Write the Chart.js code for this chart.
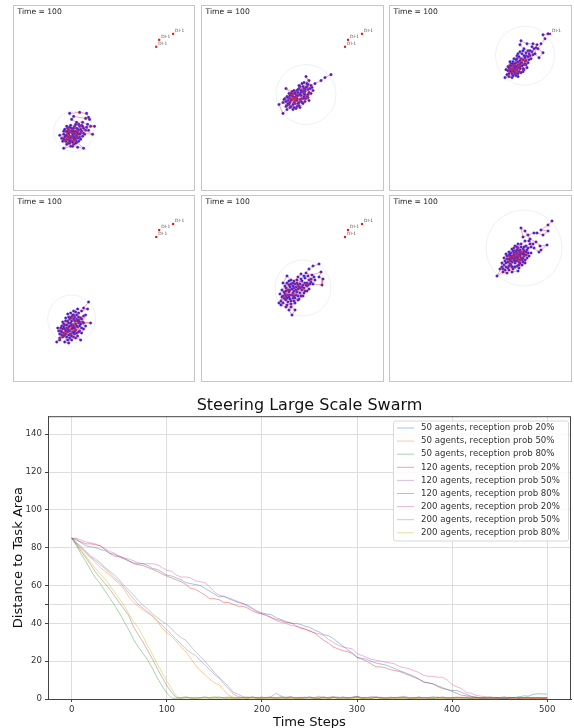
<!DOCTYPE html>
<html>
<head>
<meta charset="utf-8">
<script src="https://cdn.jsdelivr.net/npm/chart.js@4/dist/chart.umd.min.js"></script>
<style>
html,body{margin:0;padding:0;background:#fff;overflow:hidden}
.panel{position:absolute;border:1px solid #c6c6c6;box-sizing:border-box}
.panel canvas{display:block;filter:blur(.3px)}
#main{position:absolute;left:0;top:395px;filter:blur(.3px)}
</style>
</head>
<body>
<div class="panel" style="left:13px;top:5px;width:182px;height:186px"><canvas id="p1" width="180" height="184"></canvas></div>
<div class="panel" style="left:201px;top:5px;width:183px;height:186px"><canvas id="p2" width="181" height="184"></canvas></div>
<div class="panel" style="left:389px;top:5px;width:183px;height:186px"><canvas id="p3" width="181" height="184"></canvas></div>
<div class="panel" style="left:13px;top:195px;width:182px;height:187px"><canvas id="p4" width="180" height="185"></canvas></div>
<div class="panel" style="left:201px;top:195px;width:183px;height:187px"><canvas id="p5" width="181" height="185"></canvas></div>
<div class="panel" style="left:389px;top:195px;width:183px;height:187px"><canvas id="p6" width="181" height="185"></canvas></div>
<canvas id="main" width="574" height="333"></canvas>
<script>
// distance chart
const steps = [
0,5,10,15,20,25,30,35,40,45,
50,55,60,65,70,75,80,85,90,95,
100,105,110,115,120,125,130,135,140,145,
150,155,160,165,170,175,180,185,190,195,
200,205,210,215,220,225,230,235,240,245,
250,255,260,265,270,275,280,285,290,295,
300,305,310,315,320,325,330,335,340,345,
350,355,360,365,370,375,380,385,390,395,
400,405,410,415,420,425,430,435,440,445,
450,455,460,465,470,475,480,485,490,495,
500];
const a50p20 = [
85,84.5,82.5,81,80.5,80,79,78.5,77,76.5,
75,74,73,72,71.5,71.5,70.5,69,68.5,67,
65.5,65,64,63,61.5,61,60.5,60,58.5,57,
55.5,54,54.5,53,52,51,50.5,49.5,48,46.5,
45.5,45,44.5,43,42,41,40,40,39.5,38.5,
38,36.5,35.5,34,33.5,32,30,28,26,24.5,
22,21.5,21,20,19,18.5,18,17,16,15,
14,13,12,10.5,9,8.5,8,7,6,5,
4.5,4.5,3.5,2.5,1.5,.9,.5,.7,.4,.6,
.5,.3,.8,.5,.6,1.7,1.5,2.4,2.8,2.7,
2.5];
const a50p50 = [
85,82,79.5,77,74.5,72,69.5,67.5,65.5,63,
61,58,54,51,49,47,45.5,43.5,41,37.5,
35,33,30.5,27.5,25,21.5,18,15,13,10.5,
8.5,7.5,4.5,2,.8,.5,.7,.3,.9,.5,
.4,.8,.3,.6,.5,1,.4,.7,.3,.6,
.9,.4,.5,1.2,.3,.6,.8,.4,.7,.5,
.9,.3,.6,.4,.8,.5,.3,.7,.4,.6,
.5,.8,.3,.4,.7,.5,1,.4,.6,.3,
.7,.5,.4,1.2,.6,.3,.5,.8,.4,.6,
.3,.7,.5,.4,.9,.3,.6,.5,.4,.7,
.4];
const a50p80 = [
85,81,76.5,72.5,68,64,61,57,53.5,49.5,
45.5,41,36.5,31.5,27.5,24,20.5,16,11,7,
3,.5,.3,.8,1.1,.6,.9,.4,1,.7,
1.2,.5,.8,1,.4,.9,.6,1.1,.5,.7,
1,.4,.8,.6,1.2,.5,.9,.4,.7,1,
.6,.8,.3,1.1,.5,.9,.6,1,.4,.7,
1.1,.5,.8,.4,.9,.6,.3,1,.5,.7,
.9,.4,.6,1,.5,.8,.3,.7,1.1,.4,
.8,.5,.9,.4,.6,1,.3,.7,.5,.9,
.6,.4,1,.5,1.2,.7,.4,.8,.5,.6,
.7];
const a120p20 = [
85,84,83,82,82,81.5,81,79,77,75.5,
75.5,74.5,73,71.5,71,70.5,69.5,68.5,67.5,66,
65,64,63,62,60.5,58.5,58,56.5,55,53,
53,52.5,51,51,50,49,49,48,46.5,45.5,
45,44,43,42,41.5,40.5,40.5,39,37.5,37,
36,35,33,31,29.5,27.5,26.5,25.5,25,24,
22,21,20,18.5,17,17,16.5,15.5,15,14.5,
13.5,12.5,11.5,10.5,9,8.5,8,6.5,5.5,5,
4,3,2,1.7,1.3,.7,.5,.3,.6,.4,
.5,.3,.4,.7,.3,.5,.6,.3,.5,.4,
.3];
const a120p50 = [
85,82.5,80,77.5,75,73,71,69,66.5,64,
62,59,56,53,50,48,46,44,41.5,39,
36.5,34,31.5,29,26.5,24.5,23,20.5,18,15.5,
13,11,8,5.5,2.5,1.2,.8,.5,.9,.6,
.4,.7,1,.5,.8,.3,.6,.9,.5,.4,
.7,.3,.9,.5,.6,.8,1.1,.4,.6,.7,
1,.5,.8,.4,1.2,.6,.3,.7,.5,.9,
.4,.6,.8,.3,.5,.7,.4,.9,.6,.3,
.5,.8,.4,.6,.3,.7,.5,.9,.4,.6,
.8,.3,.5,.7,.4,.6,.9,.3,.5,.4,
.6];
const a120p80 = [
85,81.5,78,74.5,71,67,64,61,58,54.5,
51,47.5,44,38,34,30,25.5,21,16,11.5,
7,3.5,.7,.4,.9,.6,.3,.8,1,.5,
.7,1.1,.4,.6,.9,.3,.8,.5,1,.6,
.4,.9,.7,.3,.6,.8,1,.5,.4,.7,
.9,.5,.3,.8,.6,1,.4,.7,.5,.9,
1.3,.6,.4,.8,1,.5,.7,.3,.9,.6,
.8,.4,.5,.9,.7,.3,.6,1,.4,.8,
.5,.7,.9,.4,.6,.3,.8,.5,1,.6,
.4,.7,.5,.9,.3,.6,.8,.4,.7,.5,
.6];
const a200p20 = [
85,85,84,83,82.5,82,81,79.5,78,77,
75.5,74.5,74,73,72,71.5,71.5,71.5,71,69.5,
68,67.5,65.5,64.5,64.5,64,62.5,62,61.5,59.5,
56.5,55,54,53.5,52.5,51.5,50.5,49,47.5,46,
45,44.5,43,41.5,40.5,40,39,38.5,38,37,
36,35,34.5,33.5,31.5,30,28.5,27.5,27,26.5,
24,23,22,21,20.5,20,19.5,19,18.5,17,
16.5,16,15,14,12.5,12,12,11.5,11.5,10,
7.5,6.5,5.5,3.5,3,2,1.5,1.2,1,.8,
.5,.6,.4,.9,.5,.8,.7,.4,.6,.5,
.4];
const a200p50 = [
85,82.5,80.5,78,75.5,74,72,69.5,67.5,65.5,
63,60,57.5,55,52,49.5,47.5,45,43,41,
39.5,37,34.5,32.5,31,28,25,22.5,20,17,
14,11.5,9,6.5,3.5,2.5,1.2,.8,1.1,.6,
1,.5,1.4,3,1.6,.8,1.3,.6,1,.5,
1.2,.7,1.5,.6,.9,1.3,.5,1.1,.7,.9,
1.5,.8,.6,1.4,.7,1,.5,.9,.6,1.1,
1.4,.7,.5,1,.6,.8,1.2,.5,.9,.7,
.6,1.1,.5,.8,.4,1,.7,.5,.9,.6,
.8,1.3,.5,.7,1,.6,.4,.9,.7,.5,
.8];
const a200p80 = [
85,82,78.5,75.5,72,69,66,63.5,60,56.5,
53,49.5,45,41,37.5,33,28,23.5,18.5,14,
9.5,5.5,1.5,.3,.5,.4,.2,.6,.3,.5,
.2,.4,.6,.3,.2,.5,.4,.3,.6,.2,
.4,.5,.3,.6,.2,.4,.3,.5,.2,.6,
.3,.4,.2,.5,.3,.6,.2,.4,.5,.3,
.4,.2,.6,.3,.5,.2,.4,.3,.6,.2,
.5,.3,.4,.2,.6,.3,.5,.2,.4,.3,
.2,.5,.3,.6,.2,.4,.3,.5,.2,.4,
.3,.6,.2,.4,.5,.3,.2,.4,.3,.5,
.2];
const seriesNames = [
'50 agents, reception prob 20%','50 agents, reception prob 50%','50 agents, reception prob 80%',
'120 agents, reception prob 20%','120 agents, reception prob 50%','120 agents, reception prob 80%',
'200 agents, reception prob 20%','200 agents, reception prob 50%','200 agents, reception prob 80%'];
const seriesValues = [a50p20,a50p50,a50p80,a120p20,a120p50,a120p80,a200p20,a200p50,a200p80];
const seriesColors = ['rgba(31,119,180,.42)','rgba(255,127,14,.42)','rgba(44,160,44,.42)','rgba(214,39,40,.42)','rgba(148,103,189,.42)','rgba(140,86,75,.42)','rgba(227,119,194,.55)','rgba(127,127,127,.42)','rgba(188,189,34,.45)'];
const yTicks = [0,20,40,50,60,80,100,120,140];

// swarm panels, positions in panel units
const swarm1 = [[56,77],[66,78],[73,77],[75,73],[76,71],[72,72],[60,74],[58,71],[63,68],[69,68],[74,66],[81,64],[77,64],[70,62],[66,64],[62,66],[60,62],[65,60],[72,60],[79,56],[70,57],[64,56],[59,60],[54,62],[56,58],[61,57],[66,53],[60,52],[56,54],[52,59],[50,56],[46,55],[51,53],[55,50],[49,49],[54,47],[58,49],[62,50],[60,46],[57,44],[50,42],[56,47],[64,43],[70,42],[63,48],[58,53],[55,56],[53,51],[57,59],[61,55],[64,52],[59,48],[56,52],[52,55],[58,62],[62,59],[67,57],[63,62],[68,65],[64,58],[60,54],[57,50],[54,57],[50,59],[55,60],[59,57],
[53,64],[57,65],[61,64],[65,66],[67,61],[69,64],[73,63],[75,60],[68,59],[66,56],[63,54],[59,55],[55,53],[52,49],[48,52],[50,51],[53,54],[56,49],[60,50],[62,47],[65,49],[67,51],[69,54],[71,56],[62,53],[58,58],[54,59],[51,61],[56,63],[60,59],[63,57],[57,53],[53,46],[59,44],[61,52],[64,61]];
const swarm2 = [[129,116],[123,113],[119,110],[113,107],[109,105],[104,114],[107,110],[102,108],[105,104],[111,100],[106,96],[107,90],[102,94],[99,98],[103,101],[98,104],[95,100],[92,97],[84,102],[89,97],[87,93],[92,92],[96,95],[100,92],[97,88],[93,87],[97,85],[92,83],[87,86],[85,85],[81,88],[77,86],[81,77],[85,81],[89,84],[93,90],[90,95],[86,90],[83,92],[88,88],[94,93],[98,91],[102,97],[106,101],[109,97],[104,92],[100,88],[95,90],[91,86],[96,98],[101,104],[105,107],[108,102],[103,99],[99,95],[94,96],[90,91],[86,87],[92,100],[97,102],[100,100],[106,93],[84,89],[88,92],[95,84],[91,94],
[90,99],[87,97],[85,94],[82,91],[84,84],[88,83],[91,81],[94,82],[98,83],[101,87],[103,89],[105,94],[102,92],[99,89],[96,87],[93,93],[89,90],[86,93],[95,92],[98,96],[101,99],[104,103],[100,107],[97,105],[103,96],[107,98],[110,103],[106,106],[102,102],[96,101],[93,98],[90,97],[88,95],[92,88],[95,95],[99,100]];
const swarm3 = [[158,157],[153,156],[155,152],[151,147],[148,142],[153,138],[149,133],[145,137],[147,146],[143,147],[137,147],[131,150],[130,146],[134,142],[138,140],[142,139],[146,143],[140,135],[136,135],[132,137],[128,137],[127,132],[131,132],[135,130],[138,128],[134,126],[130,127],[126,128],[123,129],[126,124],[130,122],[133,122],[129,119],[125,120],[122,122],[120,125],[118,120],[122,117],[126,115],[122,113],[119,114],[115,113],[119,117],[123,120],[127,124],[131,125],[135,133],[139,131],[128,129],[124,125],[121,119],[125,117],[129,123],[132,128],[136,126],[133,119],[127,118],[124,122],[120,122],[117,116],[123,115],[130,130],[134,135],[126,121],[128,114],[121,127],
[118,124],[116,121],[120,129],[124,132],[127,135],[130,139],[133,140],[136,138],[140,140],[143,136],[141,132],[138,134],[135,127],[137,123],[134,121],[131,118],[128,117],[125,123],[122,125],[125,127],[128,126],[131,128],[133,131],[129,134],[126,131],[123,127],[120,120],[119,123],[124,119],[127,121],[130,124],[132,125],[136,130],[139,137],[144,142],[142,144]];
const swarm4 = [[75,79],[70,73],[74,72],[68,70],[64,72],[60,70],[57,68],[54,67],[58,64],[63,66],[67,63],[72,66],[69,59],[77,58],[70,58],[65,58],[61,60],[56,62],[52,60],[49,59],[48,55],[53,56],[57,58],[60,55],[64,54],[66,50],[62,51],[58,52],[55,54],[51,52],[47,50],[44,53],[46,47],[50,48],[54,49],[57,47],[61,47],[64,45],[67,41],[60,44],[56,43],[55,38],[51,39],[53,44],[49,44],[43,39],[46,43],[52,47],[56,50],[59,56],[63,62],[61,64],[58,60],[55,58],[62,57],[66,55],[59,49],[54,52],[50,54],[60,66],[65,61],[57,55],[53,50],[48,46],[68,53],[63,48],[56,46],[61,53],
[65,68],[62,69],[59,66],[55,64],[52,63],[50,57],[47,53],[45,50],[48,49],[51,46],[55,46],[58,45],[62,43],[65,49],[68,48],[70,52],[72,55],[67,57],[64,60],[60,62],[57,63],[54,60],[51,56],[53,53],[56,55],[59,53],[61,50],[63,55],[66,59],[68,62],[70,65],[65,64],[62,60],[58,56],[55,51],[52,50],[49,52],[46,41],[50,45],[54,41],[58,41],[60,48]];
const swarm5 = [[117,117],[111,115],[107,112],[104,108],[110,106],[119,109],[117,104],[121,102],[120,96],[111,97],[113,101],[107,101],[103,103],[99,107],[96,104],[92,100],[89,101],[85,105],[81,98],[87,96],[91,95],[95,98],[100,100],[104,96],[107,92],[103,90],[99,94],[96,92],[92,90],[88,91],[84,93],[82,89],[86,86],[90,86],[94,86],[98,88],[101,85],[97,82],[92,80],[88,82],[84,81],[80,84],[77,78],[81,78],[85,76],[89,77],[93,78],[87,71],[90,66],[93,71],[86,79],[82,83],[79,80],[83,87],[87,89],[91,83],[95,89],[100,91],[105,95],[108,97],[98,97],[94,94],[90,92],[86,91],[96,85],[102,93],[88,86],[84,85],[92,85],[99,102],
[102,105],[106,105],[109,102],[112,104],[109,99],[105,98],[101,96],[97,94],[93,97],[89,97],[85,98],[83,95],[80,91],[78,87],[81,85],[85,83],[89,80],[93,83],[96,81],[99,85],[102,88],[105,90],[100,94],[96,96],[92,93],[88,94],[84,90],[87,84],[91,88],[94,91],[98,93],[103,98],[106,96],[95,101],[91,98],[87,100],[83,82],[79,76],[84,74],[89,74]];
const swarm6 = [[162,160],[158,156],[151,151],[158,150],[153,146],[147,148],[144,148],[138,146],[133,144],[131,153],[135,150],[140,142],[146,139],[150,135],[157,136],[151,131],[149,129],[144,133],[140,137],[136,135],[134,130],[138,128],[134,125],[130,127],[127,131],[131,134],[128,137],[124,133],[126,127],[123,125],[126,122],[130,121],[133,119],[129,116],[125,118],[121,121],[119,126],[117,122],[120,117],[124,114],[128,110],[122,109],[118,113],[114,116],[113,112],[117,108],[113,109],[107,105],[112,114],[116,118],[120,124],[124,128],[128,124],[132,127],[129,130],[125,125],[122,119],[119,115],[123,112],[127,115],[131,123],[135,121],[127,120],[125,130],[121,128],[129,126],[133,132],[137,131],[141,128],[128,122],[124,121],[118,119],[126,124],[130,118],
[127,128],[123,130],[120,127],[117,125],[115,120],[112,118],[110,112],[115,111],[119,111],[122,114],[125,114],[129,113],[132,116],[135,118],[137,123],[134,127],[131,129],[128,133],[125,135],[122,132],[119,129],[116,127],[114,123],[118,122],[121,125],[124,123],[127,126],[130,125],[133,123],[136,126],[139,125],[136,129],[133,128],[130,131],[127,134],[131,137],[135,140],[139,140],[143,137],[141,134],[138,133],[134,134],[130,128],[126,129],[122,123],[120,120],[116,114],[121,116],[125,120],[129,119],[132,121],[128,125],[124,126],[120,122]];
const swarms = [swarm1,swarm2,swarm3,swarm4,swarm5,swarm6];
const circleCenters = [[60,59],[104,96],[135,135],[58,62],[101,93],[134,133]];
const circleRadii = [20,30,29.5,24,28,38];
const goals = [[160,157],[146,151],[143,144]];
const goalCounts = [3,3,1,3,3,0];

const swarmText = {
  id: 'swarmText',
  afterDraw(chart) {
    const c = chart.ctx;
    c.save();
    c.fillStyle = '#222';
    c.font = '7.6px "DejaVu Sans"';
    c.textBaseline = 'middle';
    c.fillText('Time = 100', 3.5, 6.5);
    c.fillStyle = '#555';
    c.font = '4.4px "DejaVu Sans"';
    chart.data.datasets[0].data.forEach(p => {
      c.fillText('DI-1', chart.scales.x.getPixelForValue(p.x) + 2, chart.scales.y.getPixelForValue(p.y) - 3);
    });
    c.restore();
  }
};

swarms.forEach((pts, i) => {
  const xy = pts.map(p => ({x: p[0], y: p[1]}));
  new Chart(document.getElementById('p' + (i + 1)), {
    type: 'scatter',
    data: {
      datasets: [{
        data: goals.slice(0, goalCounts[i]).map(p => ({x: p[0], y: p[1]})),
        pointStyle: 'rect',
        pointRadius: 1.5,
        pointBackgroundColor: '#f01010',
        pointBorderWidth: 0
      }, {
        data: xy,
        showLine: true,
        borderColor: 'rgba(230,40,60,.6)',
        borderWidth: 0.7,
        pointRadius: 0
      }, {
        data: xy,
        pointRadius: 1.3,
        pointBackgroundColor: '#2f10d8',
        pointBorderColor: 'rgba(90,80,240,.4)',
        pointBorderWidth: 1
      }, {
        data: [{x: circleCenters[i][0], y: circleCenters[i][1]}],
        pointRadius: circleRadii[i],
        pointBackgroundColor: 'transparent',
        pointBorderColor: '#e8ecf0',
        pointBorderWidth: 0.8,
        clip: false
      }]
    },
    options: {
      responsive: false,
      animation: false,
      layout: {padding: 0, autoPadding: false},
      plugins: {legend: {display: false}, title: {display: false}, tooltip: {enabled: false}},
      scales: {
        x: {display: false, min: 0, max: 181},
        y: {display: false, min: 0, max: 185}
      }
    },
    plugins: [swarmText]
  });
});

const frameAndLegend = {
  id: 'frameAndLegend',
  afterDatasetsDraw(chart) {
    const c = chart.ctx, a = chart.chartArea;
    c.save();
    c.strokeStyle = '#444';
    c.lineWidth = 1;
    c.strokeRect(a.left + .5, a.top + .5, a.right - a.left - 1, a.bottom - a.top);
    // legend box
    const bx = 393.5, by = 26, bw = 175, bh = 120;
    c.fillStyle = 'rgba(255,255,255,.85)';
    c.strokeStyle = '#d8d8d8';
    c.beginPath();
    c.roundRect(bx, by, bw, bh, 2);
    c.fill();
    c.stroke();
    c.font = '8.65px "DejaVu Sans"';
    c.textBaseline = 'middle';
    seriesNames.forEach((name, i) => {
      const y = by + 7 + i * 13.1;
      c.strokeStyle = seriesColors[i];
      c.beginPath();
      c.moveTo(bx + 3.5, y);
      c.lineTo(bx + 20.5, y);
      c.stroke();
      c.fillStyle = '#333';
      c.fillText(name, bx + 27.5, y);
    });
    c.restore();
  }
};

new Chart(document.getElementById('main'), {
  type: 'line',
  data: {
    datasets: seriesNames.map((name, i) => ({
      label: name,
      data: seriesValues[i].map((v, j) => ({x: steps[j], y: v})),
      borderColor: seriesColors[i],
      borderWidth: 1,
      pointRadius: 0,
      tension: 0
    }))
  },
  options: {
    responsive: false,
    animation: false,
    layout: {padding: {right: 3}},
    plugins: {
      legend: {display: false},
      tooltip: {enabled: false},
      title: {
        display: true,
        text: 'Steering Large Scale Swarm',
        fullSize: false,
        color: '#111',
        font: {family: 'DejaVu Sans', size: 16, weight: 'normal'},
        padding: {top: 1, bottom: 1}
      }
    },
    scales: {
      x: {
        type: 'linear',
        min: -25,
        max: 525,
        afterFit(s) { s.height = 29; },
        grid: {color: '#dedede', lineWidth: 1, tickColor: '#444', tickLength: 3},
        border: {color: '#444'},
        ticks: {stepSize: 100, includeBounds: false, maxRotation: 0, color: '#333', padding: 3, font: {family: 'DejaVu Sans', size: 8.6}},
        title: {display: true, text: 'Time Steps', color: '#111', padding: {top: 0, bottom: -2}, font: {family: 'DejaVu Sans', size: 13.1}}
      },
      y: {
        min: 0,
        max: 149.5,
        afterFit(s) { s.width = 48; },
        afterBuildTicks(s) { s.ticks = yTicks.map(v => ({value: v})); },
        grid: {color: '#dedede', lineWidth: 1, tickColor: '#444', tickLength: 3},
        border: {color: '#444'},
        ticks: {
          color: '#333',
          padding: 3,
          font: {family: 'DejaVu Sans', size: 8.6},
          callback: v => v === 50 ? '' : v
        },
        title: {display: true, text: 'Distance to Task Area', color: '#111', padding: {top: 11, bottom: 0}, font: {family: 'DejaVu Sans', size: 13.1}}
      }
    }
  },
  plugins: [frameAndLegend]
});
</script>
</body>
</html>
